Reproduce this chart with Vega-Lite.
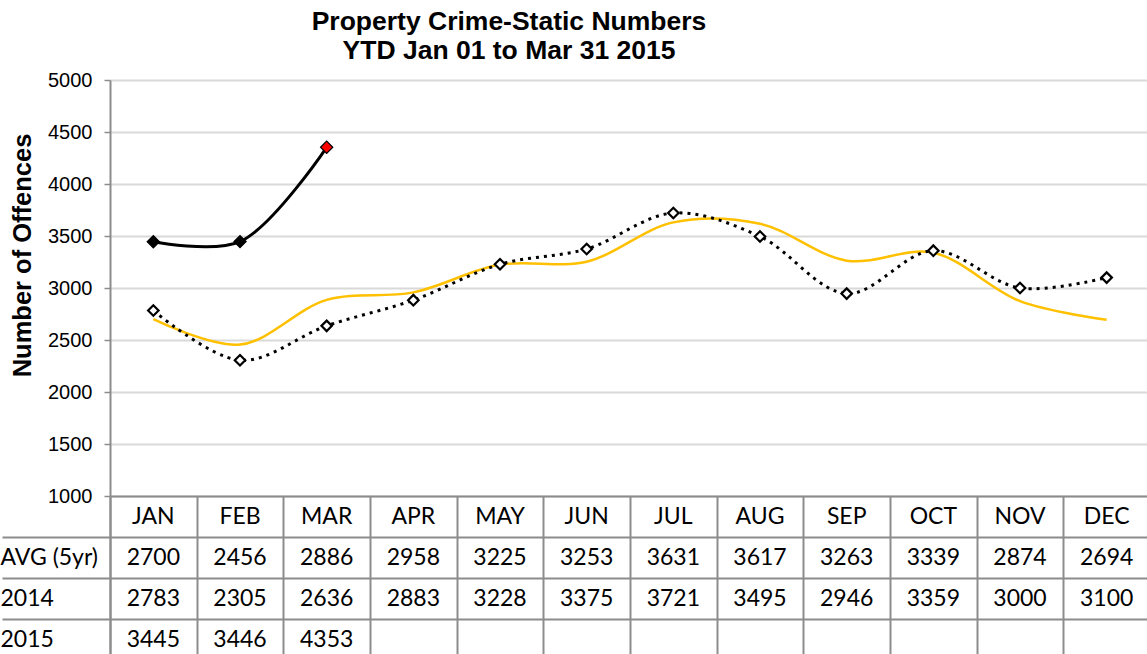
{
  "$schema": "https://vega.github.io/schema/vega-lite/v6.json",
  "padding": {"top": 8, "left": 0, "right": 0, "bottom": 0},
  "background": "white",
  "title": {
    "text": ["Property Crime-Static Numbers", "YTD Jan 01 to Mar 31 2015"],
    "font": "Liberation Sans",
    "fontSize": 26.5,
    "fontWeight": "bold",
    "lineHeight": 29,
    "color": "black",
    "anchor": "middle",
    "dx": -66,
    "offset": 6
  },
  "datasets": {
    "crime": [
      {"month": "JAN", "series": "AVG (5yr)", "value": 2700},
      {"month": "FEB", "series": "AVG (5yr)", "value": 2456},
      {"month": "MAR", "series": "AVG (5yr)", "value": 2886},
      {"month": "APR", "series": "AVG (5yr)", "value": 2958},
      {"month": "MAY", "series": "AVG (5yr)", "value": 3225},
      {"month": "JUN", "series": "AVG (5yr)", "value": 3253},
      {"month": "JUL", "series": "AVG (5yr)", "value": 3631},
      {"month": "AUG", "series": "AVG (5yr)", "value": 3617},
      {"month": "SEP", "series": "AVG (5yr)", "value": 3263},
      {"month": "OCT", "series": "AVG (5yr)", "value": 3339},
      {"month": "NOV", "series": "AVG (5yr)", "value": 2874},
      {"month": "DEC", "series": "AVG (5yr)", "value": 2694},
      {"month": "JAN", "series": "2014", "value": 2783},
      {"month": "FEB", "series": "2014", "value": 2305},
      {"month": "MAR", "series": "2014", "value": 2636},
      {"month": "APR", "series": "2014", "value": 2883},
      {"month": "MAY", "series": "2014", "value": 3228},
      {"month": "JUN", "series": "2014", "value": 3375},
      {"month": "JUL", "series": "2014", "value": 3721},
      {"month": "AUG", "series": "2014", "value": 3495},
      {"month": "SEP", "series": "2014", "value": 2946},
      {"month": "OCT", "series": "2014", "value": 3359},
      {"month": "NOV", "series": "2014", "value": 3000},
      {"month": "DEC", "series": "2014", "value": 3100},
      {"month": "JAN", "series": "2015", "value": 3445},
      {"month": "FEB", "series": "2015", "value": 3446},
      {"month": "MAR", "series": "2015", "value": 4353}
    ]
  },
  "spacing": 0,
  "bounds": "flush",
  "config": {
    "view": {"stroke": null},
    "axis": {"labelFont": "Liberation Sans", "titleFont": "Liberation Sans"}
  },
  "vconcat": [
    {
      "width": 1040,
      "height": 416,
      "data": {"name": "crime"},
      "encoding": {
        "x": {
          "field": "month",
          "type": "nominal",
          "sort": ["JAN","FEB","MAR","APR","MAY","JUN","JUL","AUG","SEP","OCT","NOV","DEC"],
          "scale": {"type": "band", "paddingInner": 0, "paddingOuter": 0},
          "axis": {"title": null, "labels": false, "ticks": false, "grid": false, "domainColor": "#8c8c8c", "domainWidth": 2}
        },
        "y": {
          "field": "value",
          "type": "quantitative",
          "scale": {"domain": [1000, 5000], "nice": false, "zero": false},
          "axis": {
            "title": "Number of Offences",
            "titleFontSize": 25.5,
            "titleFontWeight": "bold",
            "titleColor": "black",
            "titleX": -88,
            "titleY": 175,
            "titleBaseline": "middle",
            "titleAngle": -90,
            "values": [1000,1500,2000,2500,3000,3500,4000,4500,5000],
            "format": "d",
            "labelFontSize": 20,
            "labelColor": "black",
            "labelPadding": 12,
            "tickSize": 6,
            "tickColor": "#8c8c8c",
            "tickWidth": 1.5,
            "domainColor": "#8c8c8c",
            "domainWidth": 2,
            "grid": true,
            "gridColor": "#d9d9d9",
            "gridWidth": 2
          }
        }
      },
      "layer": [
        {
          "transform": [{"filter": "datum.series === 'AVG (5yr)'"}],
          "mark": {"type": "line", "color": "#FFC000", "strokeWidth": 2.5, "interpolate": "catmull-rom"}
        },
        {
          "transform": [{"filter": "datum.series === '2014'"}],
          "mark": {"type": "line", "color": "black", "strokeWidth": 3, "strokeDash": [3, 5], "interpolate": "catmull-rom"}
        },
        {
          "transform": [{"filter": "datum.series === '2014'"}],
          "mark": {"type": "point", "shape": "diamond", "filled": true, "fill": "white", "stroke": "black", "strokeWidth": 2.2, "size": 110, "opacity": 1}
        },
        {
          "transform": [{"filter": "datum.series === '2015'"}],
          "mark": {"type": "line", "color": "black", "strokeWidth": 3, "interpolate": "catmull-rom"}
        },
        {
          "transform": [{"filter": "datum.series === '2015'"}],
          "mark": {"type": "point", "shape": "diamond", "filled": true, "stroke": "black", "strokeWidth": 1.2, "size": 150, "opacity": 1},
          "encoding": {
            "fill": {"condition": {"test": "datum.month === 'MAR'", "value": "#ff0000"}, "value": "black"}
          }
        }
      ]
    },
    {
      "width": 1040,
      "height": 164,
      "data": {"name": "crime"},
      "encoding": {
        "x": {
          "field": "month",
          "type": "nominal",
          "sort": ["JAN","FEB","MAR","APR","MAY","JUN","JUL","AUG","SEP","OCT","NOV","DEC"],
          "scale": {"type": "band", "paddingInner": 0, "paddingOuter": 0},
          "axis": {"title": null, "labels": false, "ticks": false, "domain": false, "grid": true, "tickBand": "extent", "gridColor": "#8c8c8c", "gridWidth": 2}
        }
      },
      "layer": [
        {
          "mark": {"type": "text", "font": "Lato", "fontSize": 23, "color": "black", "baseline": "middle"},
          "encoding": {
            "y": {
              "field": "series",
              "type": "nominal",
              "scale": {"type": "band", "domain": ["MONTH", "AVG (5yr)", "2014", "2015"], "paddingInner": 0, "paddingOuter": 0},
              "axis": {
                "title": null,
                "values": ["AVG (5yr)", "2014", "2015"],
                "tickBand": "extent",
                "tickExtra": false,
                "tickSize": 108,
                "tickColor": "#8c8c8c",
                "tickWidth": 2,
                "grid": true,
                "gridColor": "#8c8c8c",
                "gridWidth": 2,
                "domain": true,
                "domainColor": "#8c8c8c",
                "domainWidth": 2,
                "labelFont": "Lato",
                "labelFontSize": 23,
                "labelColor": "black",
                "labelAlign": "left",
                "labelPadding": 2
              }
            },
            "text": {"field": "value", "type": "quantitative"}
          }
        },
        {
          "transform": [{"filter": "datum.series === 'AVG (5yr)'"}],
          "mark": {"type": "text", "font": "Lato", "fontSize": 23, "color": "black", "baseline": "middle"},
          "encoding": {
            "y": {"datum": "MONTH", "type": "nominal"},
            "text": {"field": "month", "type": "nominal"}
          }
        }
      ]
    }
  ]
}
